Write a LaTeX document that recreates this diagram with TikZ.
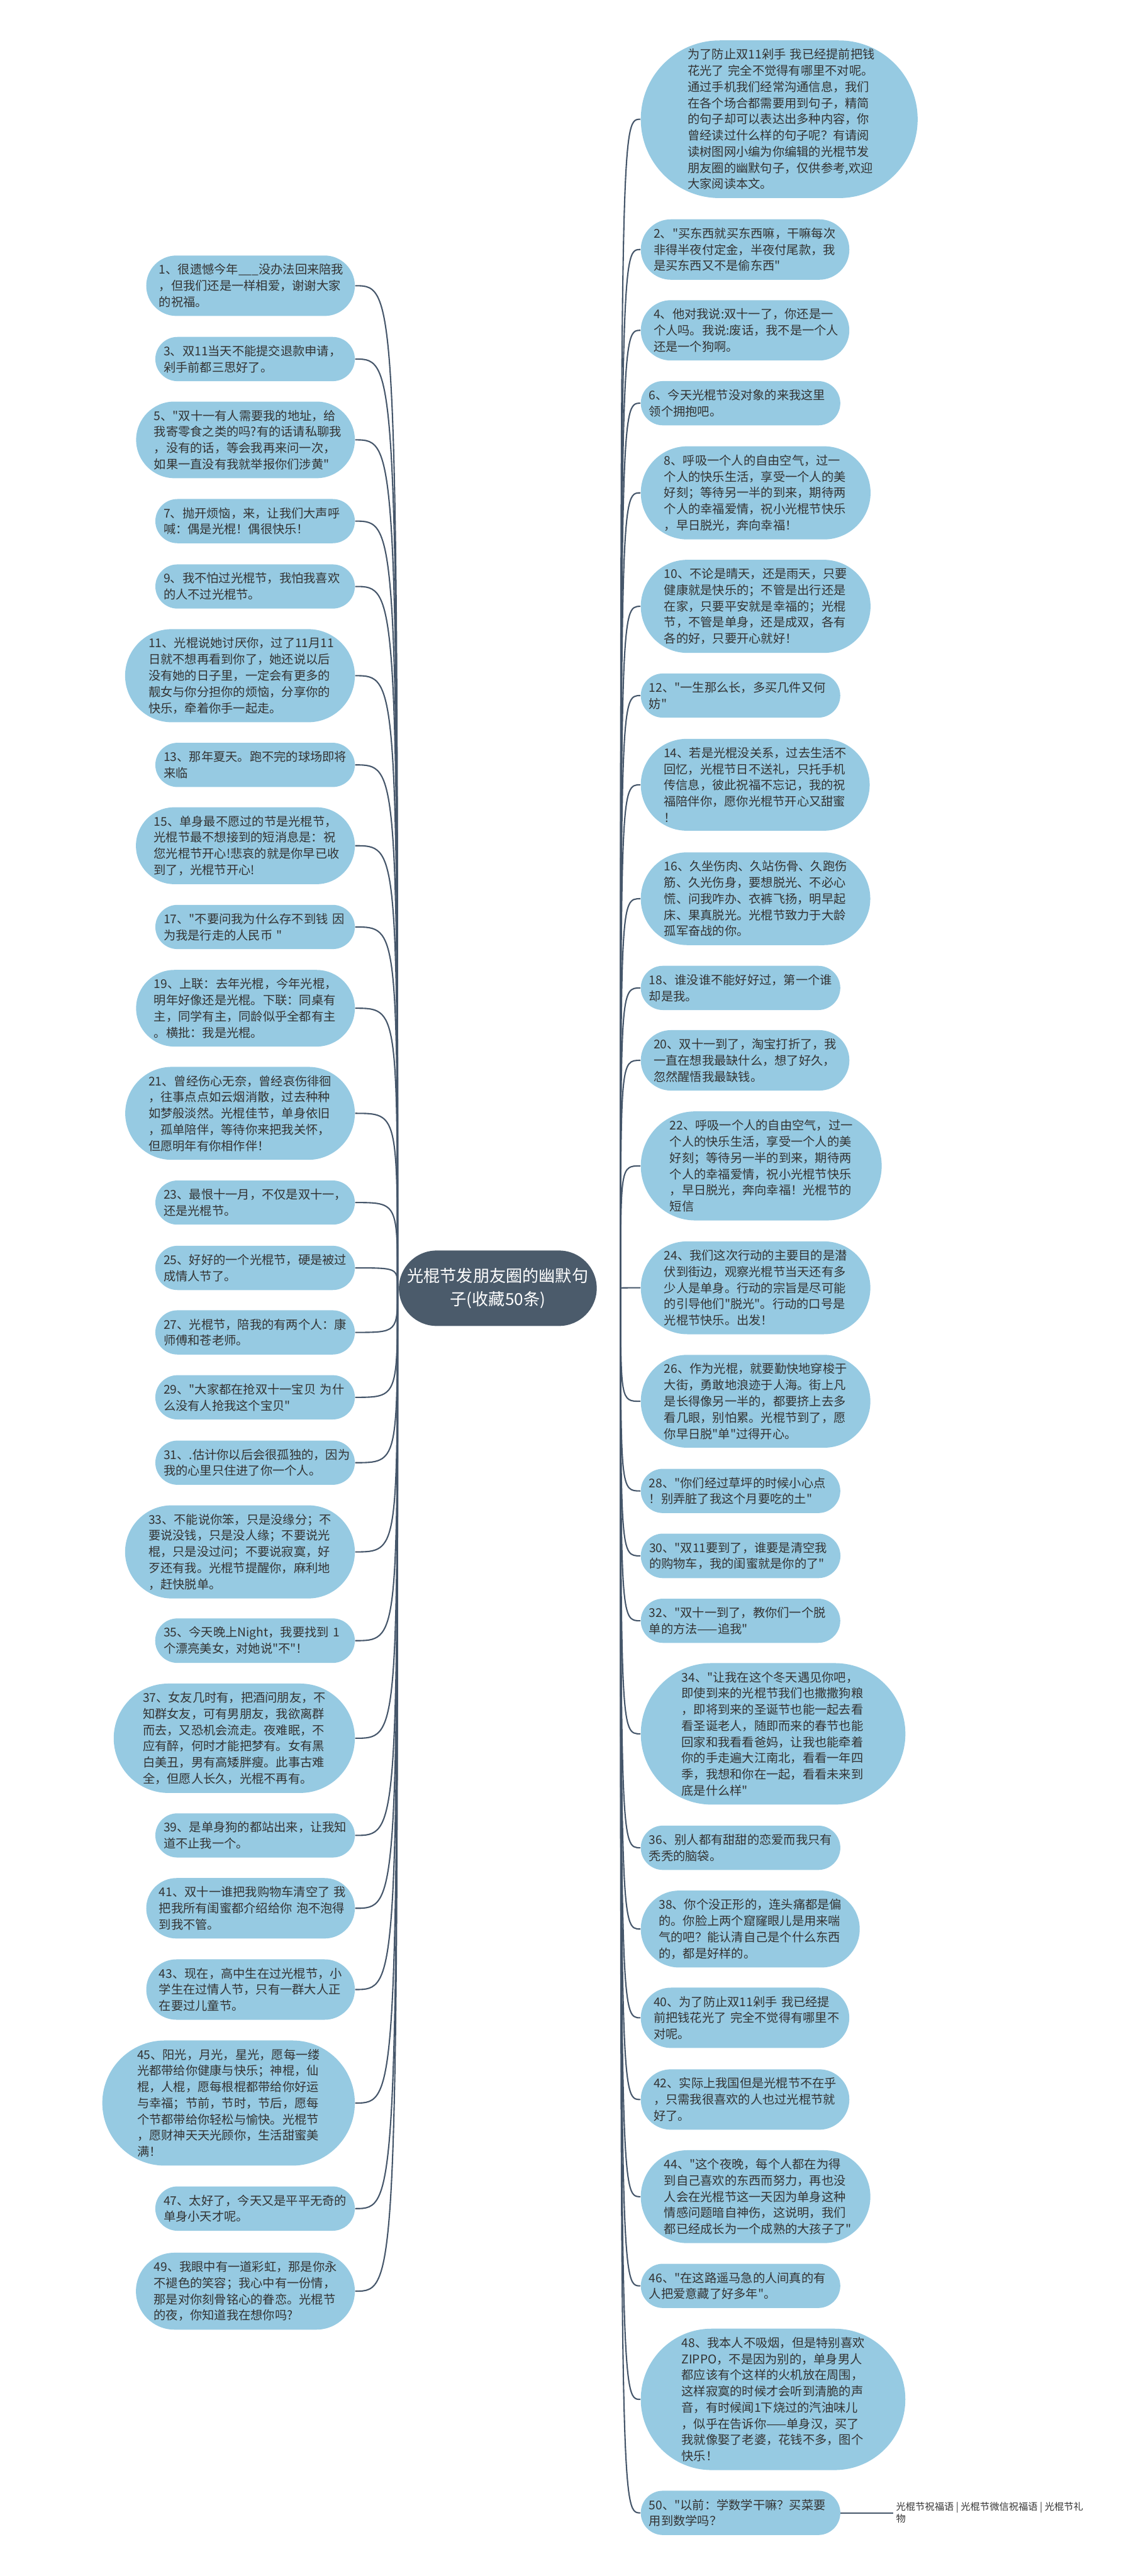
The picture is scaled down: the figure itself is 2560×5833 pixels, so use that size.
\documentclass[tikz,border=0pt]{standalone}
\usepackage{fontspec}
\newfontfamily\cjkfont{Noto Sans CJK SC}
\usetikzlibrary{shapes.misc, backgrounds}
\definecolor{leafblue}{HTML}{96CAE2}
\definecolor{rootslate}{HTML}{4B5B6B}
\definecolor{linkslate}{HTML}{45566A}
\definecolor{txtgray}{HTML}{333333}

\begin{document}
\begin{tikzpicture}[x=0.1mm, y=-0.1mm,
  leaf/.style={rounded rectangle, fill=leafblue, text=txtgray, text width=41.4mm,
    inner xsep=0.8mm, inner ysep=1.9mm, align=left,
    font=\cjkfont\fontsize{7.8pt}{10.44pt}\selectfont},
  root/.style={rounded rectangle, fill=rootslate, text=white, align=center,
    inner xsep=0.6mm, inner ysep=4mm, font=\cjkfont\fontsize{10.6pt}{14.8pt}\selectfont},
  link/.style={linkslate, line width=0.3mm}]

\useasboundingbox (0,0) rectangle (2560,5833);

% ================================================================
% CENTRE
% ================================================================
\node[root] (root) at (1127,2917) {光棍节发朋友圈的幽默句\\子(收藏50条)};
\coordinate (hubL) at (900,2917);
\coordinate (hubR) at (1405,2917);

% ================================================================
% LEFT COLUMN (odd numbers)
% ================================================================
\node[leaf, anchor=east] (q1) at (804,647) {1、很遗憾今年\_\_\_没办法回来陪我\\，但我们还是一样相爱，谢谢大家\\的祝福。};
\node[leaf, anchor=east] (q3) at (804,813) {3、双11当天不能提交退款申请，\\剁手前都三思好了。};
\node[leaf, anchor=east] (q5) at (804,996) {5、"双十一有人需要我的地址，给\\我寄零食之类的吗?有的话请私聊我\\，没有的话，等会我再来问一次，\\如果一直没有我就举报你们涉黄"};
\node[leaf, anchor=east] (q7) at (804,1180) {7、抛开烦恼，来，让我们大声呼\\喊：偶是光棍！偶很快乐！};
\node[leaf, anchor=east] (q9) at (804,1328) {9、我不怕过光棍节，我怕我喜欢\\的人不过光棍节。};
\node[leaf, anchor=east] (q11) at (804,1530) {11、光棍说她讨厌你，过了11月11\\日就不想再看到你了，她还说以后\\没有她的日子里，一定会有更多的\\靓女与你分担你的烦恼，分享你的\\快乐，牵着你手一起走。};
\node[leaf, anchor=east] (q13) at (804,1732) {13、那年夏天。跑不完的球场即将\\来临};
\node[leaf, anchor=east] (q15) at (804,1915) {15、单身最不愿过的节是光棍节，\\光棍节最不想接到的短消息是：祝\\您光棍节开心!悲哀的就是你早已收\\到了，光棍节开心!};
\node[leaf, anchor=east] (q17) at (804,2099) {17、"不要问我为什么存不到钱~因\\为我是行走的人民币~"};
\node[leaf, anchor=east] (q19) at (804,2283) {19、上联：去年光棍，今年光棍，\\明年好像还是光棍。下联：同桌有\\主，同学有主，同龄似乎全都有主\\。横批：我是光棍。};
\node[leaf, anchor=east] (q21) at (804,2521) {21、曾经伤心无奈，曾经哀伤徘徊\\，往事点点如云烟消散，过去种种\\如梦般淡然。光棍佳节，单身依旧\\，孤单陪伴，等待你来把我关怀，\\但愿明年有你相作伴！};
\node[leaf, anchor=east] (q23) at (804,2723) {23、最恨十一月，不仅是双十一，\\还是光棍节。};
\node[leaf, anchor=east] (q25) at (804,2871) {25、好好的一个光棍节，硬是被过\\成情人节了。};
\node[leaf, anchor=east] (q27) at (804,3017) {27、光棍节，陪我的有两个人：康\\师傅和苍老师。};
\node[leaf, anchor=east] (q29) at (804,3164) {29、"大家都在抢双十一宝贝~为什\\么没有人抢我这个宝贝"};
\node[leaf, anchor=east] (q31) at (804,3312) {31、.估计你以后会很孤独的，因为\\我的心里只住进了你一个人。};
\node[leaf, anchor=east] (q33) at (804,3514) {33、不能说你笨，只是没缘分；不\\要说没钱，只是没人缘；不要说光\\棍，只是没过问；不要说寂寞，好\\歹还有我。光棍节提醒你，麻利地\\，赶快脱单。};
\node[leaf, anchor=east] (q35) at (804,3715) {35、今天晚上Night，我要找到~1\\个漂亮美女，对她说"不"！};
\node[leaf, anchor=east] (q37) at (804,3936) {37、女友几时有，把酒问朋友，不\\知群女友，可有男朋友，我欲离群\\而去，又恐机会流走。夜难眠，不\\应有醉，何时才能把梦有。女有黑\\白美丑，男有高矮胖瘦。此事古难\\全，但愿人长久，光棍不再有。};
\node[leaf, anchor=east] (q39) at (804,4156) {39、是单身狗的都站出来，让我知\\道不止我一个。};
\node[leaf, anchor=east] (q41) at (804,4321) {41、双十一谁把我购物车清空了~我\\把我所有闺蜜都介绍给你~泡不泡得\\到我不管。};
\node[leaf, anchor=east] (q43) at (804,4505) {43、现在，高中生在过光棍节，小\\学生在过情人节，只有一群大人正\\在要过儿童节。};
\node[leaf, anchor=east] (q45) at (804,4762) {45、阳光，月光，星光，愿每一缕\\光都带给你健康与快乐；神棍，仙\\棍，人棍，愿每根棍都带给你好运\\与幸福；节前，节时，节后，愿每\\个节都带给你轻松与愉快。光棍节\\，愿财神天天光顾你，生活甜蜜美\\满！};
\node[leaf, anchor=east] (q47) at (804,5001) {47、太好了，今天又是平平无奇的\\单身小天才呢。};
\node[leaf, anchor=east] (q49) at (804,5188) {49、我眼中有一道彩虹，那是你永\\不褪色的笑容；我心中有一份情，\\那是对你刻骨铭心的眷恋。光棍节\\的夜，你知道我在想你吗?};

% ================================================================
% RIGHT COLUMN (intro + even numbers)
% ================================================================
\node[leaf, anchor=west] (q0) at (1450,270) {为了防止双11剁手~我已经提前把钱\\花光了~完全不觉得有哪里不对呢。\\通过手机我们经常沟通信息，我们\\在各个场合都需要用到句子，精简\\的句子却可以表达出多种内容，你\\曾经读过什么样的句子呢？有请阅\\读树图网小编为你编辑的光棍节发\\朋友圈的幽默句子，仅供参考,欢迎\\大家阅读本文。};
\node[leaf, anchor=west] (q2) at (1450,565) {2、"买东西就买东西嘛，干嘛每次\\非得半夜付定金，半夜付尾款，我\\是买东西又不是偷东西"};
\node[leaf, anchor=west] (q4) at (1450,748) {4、他对我说:双十一了，你还是一\\个人吗。我说:废话，我不是一个人\\还是一个狗啊。};
\node[leaf, anchor=west] (q6) at (1450,913) {6、今天光棍节没对象的来我这里\\领个拥抱吧。};
\node[leaf, anchor=west] (q8) at (1450,1116) {8、呼吸一个人的自由空气，过一\\个人的快乐生活，享受一个人的美\\好刻；等待另一半的到来，期待两\\个人的幸福爱情，祝小光棍节快乐\\，早日脱光，奔向幸福！};
\node[leaf, anchor=west] (q10) at (1450,1373) {10、不论是晴天，还是雨天，只要\\健康就是快乐的；不管是出行还是\\在家，只要平安就是幸福的；光棍\\节，不管是单身，还是成双，各有\\各的好，只要开心就好！};
\node[leaf, anchor=west] (q12) at (1450,1575) {12、"一生那么长，多买几件又何\\妨"};
\node[leaf, anchor=west] (q14) at (1450,1777) {14、若是光棍没关系，过去生活不\\回忆，光棍节日不送礼，只托手机\\传信息，彼此祝福不忘记，我的祝\\福陪伴你，愿你光棍节开心又甜蜜\\！};
\node[leaf, anchor=west] (q16) at (1450,2035) {16、久坐伤肉、久站伤骨、久跑伤\\筋、久光伤身，要想脱光、不必心\\慌、问我咋办、衣裤飞扬，明早起\\床、果真脱光。光棍节致力于大龄\\孤军奋战的你。};
\node[leaf, anchor=west] (q18) at (1450,2237) {18、谁没谁不能好好过，第一个谁\\却是我。};
\node[leaf, anchor=west] (q20) at (1450,2401) {20、双十一到了，淘宝打折了，我\\一直在想我最缺什么，想了好久，\\忽然醒悟我最缺钱。};
\node[leaf, anchor=west] (q22) at (1450,2640) {22、呼吸一个人的自由空气，过一\\个人的快乐生活，享受一个人的美\\好刻；等待另一半的到来，期待两\\个人的幸福爱情，祝小光棍节快乐\\，早日脱光，奔向幸福！光棍节的\\短信};
\node[leaf, anchor=west] (q24) at (1450,2916) {24、我们这次行动的主要目的是潜\\伏到街边，观察光棍节当天还有多\\少人是单身。行动的宗旨是尽可能\\的引导他们"脱光"。行动的口号是\\光棍节快乐。出发！};
\node[leaf, anchor=west] (q26) at (1450,3173) {26、作为光棍，就要勤快地穿梭于\\大街，勇敢地浪迹于人海。街上凡\\是长得像另一半的，都要挤上去多\\看几眼，别怕累。光棍节到了，愿\\你早日脱"单"过得开心。};
\node[leaf, anchor=west] (q28) at (1450,3376) {28、"你们经过草坪的时候小心点\\！别弄脏了我这个月要吃的土"};
\node[leaf, anchor=west] (q30) at (1450,3523) {30、"双11要到了，谁要是清空我\\的购物车，我的闺蜜就是你的了"};
\node[leaf, anchor=west] (q32) at (1450,3670) {32、"双十一到了，教你们一个脱\\单的方法——追我"};
\node[leaf, anchor=west] (q34) at (1450,3926) {34、"让我在这个冬天遇见你吧，\\即使到来的光棍节我们也撒撒狗粮\\，即将到来的圣诞节也能一起去看\\看圣诞老人，随即而来的春节也能\\回家和我看看爸妈，让我也能牵着\\你的手走遍大江南北，看看一年四\\季，我想和你在一起，看看未来到\\底是什么样"};
\node[leaf, anchor=west] (q36) at (1450,4184) {36、别人都有甜甜的恋爱而我只有\\秃秃的脑袋。};
\node[leaf, anchor=west] (q38) at (1450,4368) {38、你个没正形的，连头痛都是偏\\的。你脸上两个窟窿眼儿是用来喘\\气的吧？能认清自己是个什么东西\\的，都是好样的。};
\node[leaf, anchor=west] (q40) at (1450,4569) {40、为了防止双11剁手~我已经提\\前把钱花光了~完全不觉得有哪里不\\对呢。};
\node[leaf, anchor=west] (q42) at (1450,4754) {42、实际上我国但是光棍节不在乎\\，只需我很喜欢的人也过光棍节就\\好了。};
\node[leaf, anchor=west] (q44) at (1450,4974) {44、"这个夜晚，每个人都在为得\\到自己喜欢的东西而努力，再也没\\人会在光棍节这一天因为单身这种\\情感问题暗自神伤，这说明，我们\\都已经成长为一个成熟的大孩子了"};
\node[leaf, anchor=west] (q46) at (1450,5176) {46、"在这路遥马急的人间真的有\\人把爱意藏了好多年"。};
\node[leaf, anchor=west] (q48) at (1450,5433) {48、我本人不吸烟，但是特别喜欢\\ZIPPO，不是因为别的，单身男人\\都应该有个这样的火机放在周围，\\这样寂寞的时候才会听到清脆的声\\音，有时候闻1下烧过的汽油味儿\\，似乎在告诉你——单身汉，买了\\我就像娶了老婆，花钱不多，图个\\快乐！};
\node[leaf, anchor=west] (q50) at (1450,5690) {50、"以前：学数学干嘛？买菜要\\用到数学吗？};

% related links next to the last leaf
\node[anchor=west, align=left, text=txtgray, inner xsep=0.6mm,
  font=\cjkfont\fontsize{6.2pt}{7.7pt}\selectfont] (more) at (1974+48,5690)
  {光棍节祝福语 | 光棍节微信祝福语 | 光棍节礼\\物};
\draw[link] (q50.east) -- (more.west);

% ================================================================
% CONNECTORS (behind the nodes)
% ================================================================
\begin{scope}[on background layer]
\foreach \q in {q1,q3,q5,q7,q9,q11,q13,q15,q17,q19,q21,q23,q25,
                q27,q29,q31,q33,q35,q37,q39,q41,q43,q45,q47,q49}
  \draw[link] (\q.east) .. controls (hubL |- \q.east) and (hubL |- \q.east) .. (hubL);
\foreach \q in {q0,q2,q4,q6,q8,q10,q12,q14,q16,q18,q20,q22,q24,
                q26,q28,q30,q32,q34,q36,q38,q40,q42,q44,q46,q48,q50}
  \draw[link] (\q.west) .. controls (hubR |- \q.west) and (hubR |- \q.west) .. (hubR);
\end{scope}

\end{tikzpicture}
\end{document}
